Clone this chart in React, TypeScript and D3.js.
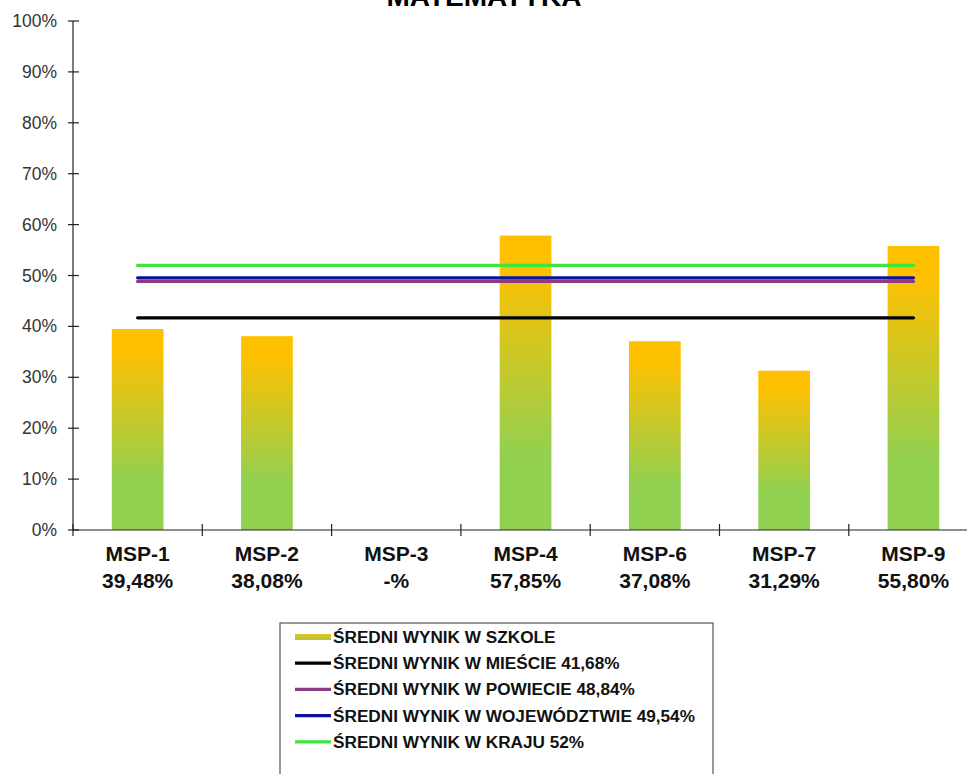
import React from "react";
import * as d3 from "d3";

const categories = ["MSP-1", "MSP-2", "MSP-3", "MSP-4", "MSP-6", "MSP-7", "MSP-9"];
const valueLabels = ["39,48%", "38,08%", "-%", "57,85%", "37,08%", "31,29%", "55,80%"];
const schoolValues: (number | null)[] = [39.48, 38.08, null, 57.85, 37.08, 31.29, 55.8];
const yTicks = [0, 10, 20, 30, 40, 50, 60, 70, 80, 90, 100];

const refNames = [
  "ŚREDNI WYNIK W MIEŚCIE 41,68%",
  "ŚREDNI WYNIK W POWIECIE 48,84%",
  "ŚREDNI WYNIK W WOJEWÓDZTWIE 49,54%",
  "ŚREDNI WYNIK W KRAJU 52%",
];
const refValues = [41.68, 48.84, 49.54, 52];
const refColors = ["#000000", "#8a3c82", "#10109c", "#3de63d"];
const schoolLegend = "ŚREDNI WYNIK W SZKOLE";

const W = 967;
const H = 774;
const left = 73;
const bandW = 129.3;

export default function App() {
  const x = d3
    .scaleBand<string>()
    .domain(categories)
    .range([left, left + bandW * categories.length])
    .padding(0);
  const y = d3.scaleLinear().domain([0, 100]).range([530, 21]);
  const bw = x.bandwidth() * 0.4;
  const firstC = (x(categories[0]) as number) + x.bandwidth() / 2;
  const lastC = (x(categories[categories.length - 1]) as number) + x.bandwidth() / 2;
  const font = "Arial, 'Liberation Sans', sans-serif";

  const legendX = 280;
  const legendY = 623;
  const rowY = (i: number) => 637 + i * 26.2;

  return (
    <svg
      width={W}
      height={H}
      style={{ position: "absolute", left: 0, top: 0, background: "#fff" }}
      fontFamily={font}
    >
      <defs>
        <linearGradient id="barGrad" x1="0" y1="0" x2="0" y2="1">
          <stop offset="0" stopColor="#ffc000" />
          <stop offset="0.1" stopColor="#ffc000" />
          <stop offset="0.75" stopColor="#92d050" />
          <stop offset="1" stopColor="#92d050" />
        </linearGradient>
        <linearGradient id="legGrad" x1="0" y1="0" x2="0" y2="1">
          <stop offset="0" stopColor="#e8c020" />
          <stop offset="1" stopColor="#a8c840" />
        </linearGradient>
      </defs>
      <rect x={0} y={0} width={W} height={H} fill="#fff" />
      <text x={484} y={6} textAnchor="middle" fontWeight="bold" fontSize={28} fill="#000">
        MATEMATYKA
      </text>

      {/* bars */}
      {categories.map((c, i) => {
        const v = schoolValues[i];
        if (v == null) return null;
        const cx = (x(c) as number) + x.bandwidth() / 2;
        return (
          <rect
            key={c}
            x={cx - bw / 2}
            y={y(v)}
            width={bw}
            height={y(0) - y(v)}
            fill="url(#barGrad)"
          />
        );
      })}

      {/* reference lines */}
      {refValues.map((v, i) => (
        <line
          key={i}
          x1={firstC}
          x2={lastC}
          y1={y(v)}
          y2={y(v)}
          stroke={refColors[i]}
          strokeWidth={3.3}
          strokeLinecap="round"
        />
      ))}

      {/* y axis */}
      <line x1={left} x2={left} y1={y(100)} y2={y(0)} stroke="#222" strokeWidth={1.2} />
      {yTicks.map((t) => (
        <g key={t}>
          <line x1={left - 5} x2={left + 6} y1={y(t)} y2={y(t)} stroke="#222" strokeWidth={1.2} />
          <text x={57} y={y(t) + 6} textAnchor="end" fontSize={17.5} fill="#333">
            {t}%
          </text>
        </g>
      ))}

      {/* x axis */}
      <line x1={left} x2={W} y1={y(0)} y2={y(0)} stroke="#222" strokeWidth={1.2} />
      {categories.map((c) => {
        const bx = x(c) as number;
        return (
          <line key={c} x1={bx} x2={bx} y1={y(0) - 6} y2={y(0) + 6} stroke="#222" strokeWidth={1.2} />
        );
      })}
      {categories.map((c, i) => {
        const cx = (x(c) as number) + x.bandwidth() / 2;
        return (
          <g key={c}>
            <text x={cx} y={561} textAnchor="middle" fontWeight="bold" fontSize={21} fill="#111">
              {c}
            </text>
            <text x={cx} y={588} textAnchor="middle" fontWeight="bold" fontSize={21} fill="#111">
              {valueLabels[i]}
            </text>
          </g>
        );
      })}

      {/* legend */}
      <rect x={legendX} y={legendY} width={433} height={200} fill="#fff" stroke="#555" strokeWidth={1.2} />
      <rect x={295} y={rowY(0) - 3} width={36} height={6} fill="url(#legGrad)" />
      <text x={333} y={rowY(0) + 6} fontWeight="bold" fontSize={17.2} fill="#111">
        {schoolLegend}
      </text>
      {refNames.map((n, i) => (
        <g key={n}>
          <line x1={295} x2={331} y1={rowY(i + 1)} y2={rowY(i + 1)} stroke={refColors[i]} strokeWidth={3.3} />
          <text x={333} y={rowY(i + 1) + 6} fontWeight="bold" fontSize={17.2} fill="#111">
            {n}
          </text>
        </g>
      ))}
    </svg>
  );
}
